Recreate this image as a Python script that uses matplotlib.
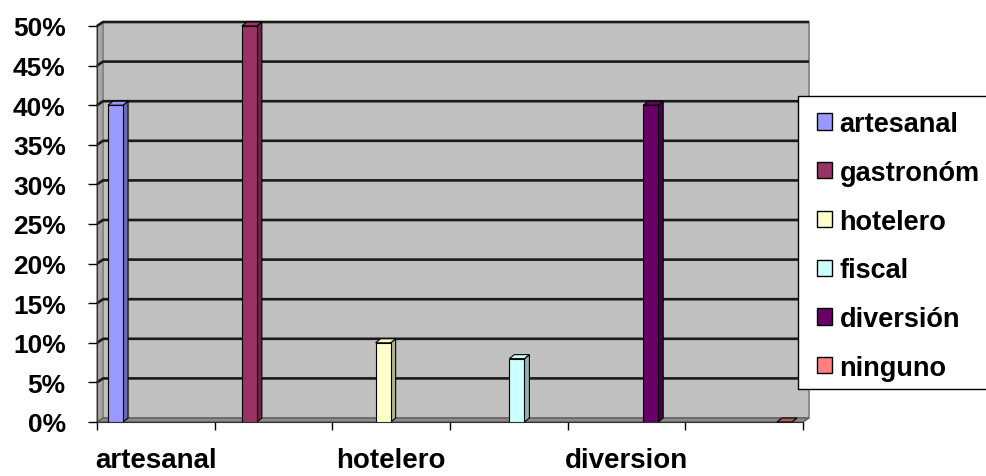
import matplotlib
matplotlib.use("Agg")
import matplotlib.pyplot as plt
from matplotlib.patches import Polygon, Patch, Rectangle
import numpy as np

# ---- data ----
series = ['artesanal', 'gastronóm', 'hotelero', 'fiscal', 'diversión', 'ninguno']
values = [0.40, 0.50, 0.10, 0.08, 0.40, 0.0]
xtick_labels = ['artesanal', '', 'hotelero', '', 'diversion', '']
ytick_values = [0.0, 0.05, 0.10, 0.15, 0.20, 0.25, 0.30, 0.35, 0.40, 0.45, 0.50]

face_colors = ['#9999FF', '#993366', '#FFFFCC', '#CCFFFF', '#660066', '#FF8080']
side_colors = ['#6B6BB3', '#6B2447', '#B3B38F', '#8FB3B3', '#470047', '#B35A5A']

plt.rcParams['font.family'] = ['Liberation Sans', 'DejaVu Sans']

W, H, DPI = 987, 477, 100
fig = plt.figure(figsize=(W / DPI, H / DPI), dpi=DPI)
fig.patch.set_facecolor('white')

L, R, T, B = 97, 803, 27, 423
ax = fig.add_axes([L / W, 1 - B / H, (R - L) / W, (B - T) / H])
ax.set_xlim(-0.5, 5.5)
ax.set_ylim(0, 0.5)
ax.patch.set_visible(False)

# pixel -> data conversion for 3-D depth
px_x = 6.0 / (R - L)
px_y = 0.5 / (B - T)
wdx, wdy = 6 * px_x, 4 * px_y     # wall depth
bdx, bdy = 5 * px_x, 4 * px_y     # bar depth

x0, x1 = -0.5, 5.5
# back wall
ax.add_patch(Polygon([(x0 + wdx, 0 + wdy), (x1 + wdx, 0 + wdy), (x1 + wdx, 0.5 + wdy), (x0 + wdx, 0.5 + wdy)],
                     closed=True, facecolor='#C0C0C0', edgecolor='#808080', lw=1.2, clip_on=False, zorder=0))
# left wall
ax.add_patch(Polygon([(x0, 0), (x0, 0.5), (x0 + wdx, 0.5 + wdy), (x0 + wdx, wdy)],
                     closed=True, facecolor='#A6A6A6', edgecolor='#808080', lw=1, clip_on=False, zorder=0.5))
# floor
ax.add_patch(Polygon([(x0, 0), (x1, 0), (x1 + wdx, wdy), (x0 + wdx, wdy)],
                     closed=True, facecolor='#8C8C8C', edgecolor='#606060', lw=1, clip_on=False, zorder=0.5))
# gridlines
for yv in ytick_values[1:]:
    ax.plot([x0, x0 + wdx, x1 + wdx], [yv, yv + wdy, yv + wdy], color='#1A1A1A', lw=1.9,
            clip_on=False, zorder=1, solid_capstyle='butt')

# bars (clustered, each series in its own category)
n = len(series)
w = 0.137
bw = 0.128
for i, (v, fc, sc) in enumerate(zip(values, face_colors, side_colors)):
    cx = i + (i - (n - 1) / 2) * w
    xl, xr = cx - bw / 2, cx + bw / 2
    ax.bar(cx, v, width=bw, color=fc, edgecolor='black', lw=0.8, zorder=3)
    ax.add_patch(Polygon([(xr, 0), (xr + bdx, bdy), (xr + bdx, v + bdy), (xr, v)], closed=True,
                         facecolor=sc, edgecolor='black', lw=0.8, zorder=2.9, clip_on=False))
    ax.add_patch(Polygon([(xl, v), (xr, v), (xr + bdx, v + bdy), (xl + bdx, v + bdy)], closed=True,
                         facecolor=sc if v == 0 else fc, edgecolor='black', lw=0.8, zorder=3.1, clip_on=False))

# spines
for s in ['top', 'right']:
    ax.spines[s].set_visible(False)
ax.spines['left'].set_color('#303030')
ax.spines['bottom'].set_color('#303030')
ax.spines['left'].set_zorder(2)
ax.spines['bottom'].set_zorder(2)

# y ticks
ax.set_yticks(ytick_values)
ax.set_yticklabels([f'{int(round(v * 100))}%' for v in ytick_values], fontsize=19, fontweight='bold')
ax.tick_params(axis='y', length=6.5, width=1, direction='out', pad=16, color='black')

# x ticks
ax.set_xticks(range(n))
ax.set_xticklabels(xtick_labels, fontsize=20, fontweight='bold')
ax.set_xticks(np.arange(-0.5, n, 1.0), minor=True)
ax.tick_params(axis='x', which='major', length=0, pad=18)
ax.tick_params(axis='x', which='minor', length=5.5, width=1, direction='out', color='black')

# legend frame (extends past the right edge, as in the reference)
fig.patches.append(Rectangle((798 / W, 1 - 390 / H), (1000 - 798) / W, (390 - 97) / H,
                             transform=fig.transFigure, facecolor='white', edgecolor='black',
                             lw=1, zorder=5, clip_on=False))
handles = [Patch(facecolor=c, edgecolor='black', lw=1) for c in face_colors]
leg = fig.legend(handles, series, loc='upper left', bbox_to_anchor=(817 / W, 1 - 112 / H),
                 frameon=False, prop={'size': 19.5, 'weight': 'bold'}, borderaxespad=0, borderpad=0,
                 handlelength=0.55, handleheight=0.55, handletextpad=0.28, labelspacing=0.84)
leg.set_zorder(6)

fig.savefig('out.png', dpi=DPI)
